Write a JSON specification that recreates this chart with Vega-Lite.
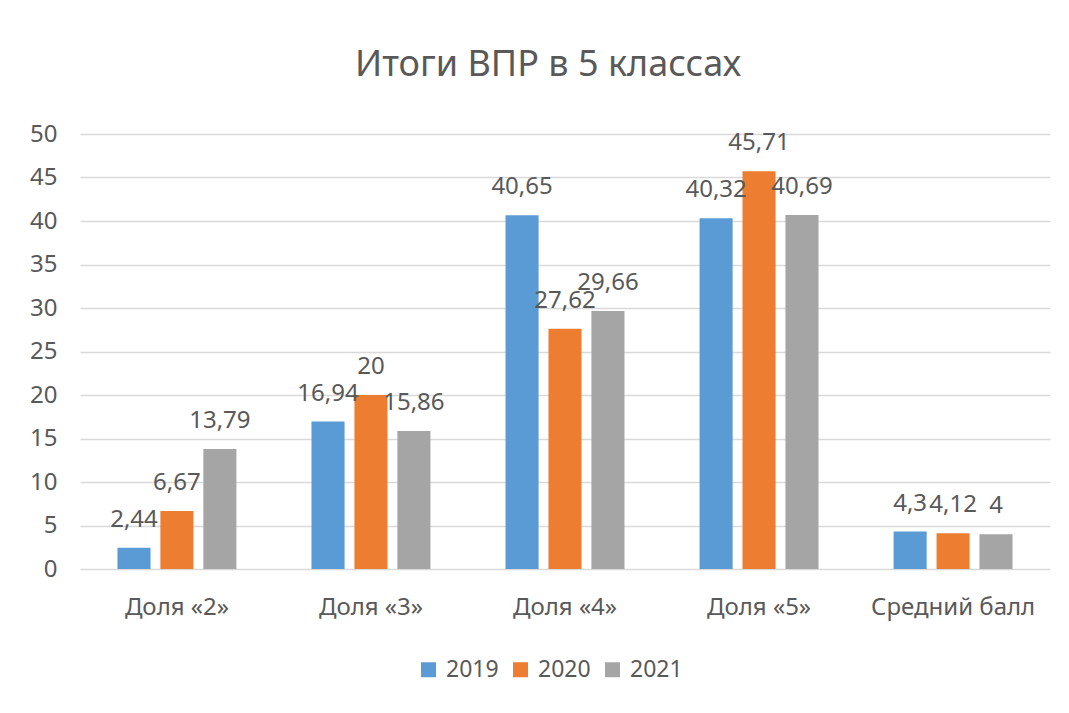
{
  "$schema": "https://vega.github.io/schema/vega-lite/v6.json",
  "autosize": {"type": "none"},
  "padding": {"left": 80, "top": 134, "right": 19, "bottom": 144},
  "width": 970,
  "height": 435,
  "background": "white",
  "config": {
    "locale": {"number": {"decimal": ",", "thousands": "\u00a0", "grouping": [3], "currency": ["", ""]}},
    "font": "Noto Sans",
    "view": {"stroke": null},
    "axis": {"labelColor": "#595959", "labelFont": "Noto Sans", "labelFontSize": 24, "ticks": false, "domain": false, "title": null, "gridColor": "#D9D9D9", "gridWidth": 1.5},
    "legend": {"labelColor": "#595959", "labelFontSize": 23, "labelFont": "Noto Sans"}
  },
  "title": {"text": "Итоги ВПР в 5 классах", "fontSize": 36, "fontWeight": "normal", "color": "#595959", "offset": 38, "dx": -17, "anchor": "middle"},
  "data": {"values": [
    {"cat": "Доля «2»", "year": "2019", "v": 2.44},
    {"cat": "Доля «2»", "year": "2020", "v": 6.67},
    {"cat": "Доля «2»", "year": "2021", "v": 13.79},
    {"cat": "Доля «3»", "year": "2019", "v": 16.94},
    {"cat": "Доля «3»", "year": "2020", "v": 20},
    {"cat": "Доля «3»", "year": "2021", "v": 15.86},
    {"cat": "Доля «4»", "year": "2019", "v": 40.65},
    {"cat": "Доля «4»", "year": "2020", "v": 27.62},
    {"cat": "Доля «4»", "year": "2021", "v": 29.66},
    {"cat": "Доля «5»", "year": "2019", "v": 40.32},
    {"cat": "Доля «5»", "year": "2020", "v": 45.71},
    {"cat": "Доля «5»", "year": "2021", "v": 40.69},
    {"cat": "Средний балл", "year": "2019", "v": 4.3},
    {"cat": "Средний балл", "year": "2020", "v": 4.12},
    {"cat": "Средний балл", "year": "2021", "v": 4}
  ]},
  "encoding": {
    "x": {"field": "cat", "type": "nominal", "sort": null,
      "scale": {"paddingInner": 0.387, "paddingOuter": 0.193},
      "axis": {"labelAngle": 0, "grid": false, "labelPadding": 26}},
    "xOffset": {"field": "year", "type": "nominal", "scale": {"paddingInner": 0.23, "paddingOuter": 0}},
    "y": {"field": "v", "type": "quantitative",
      "scale": {"domain": [0, 50], "nice": false},
      "axis": {"values": [0, 5, 10, 15, 20, 25, 30, 35, 40, 45, 50], "labelPadding": 23, "grid": true}}
  },
  "layer": [
    {
      "mark": {"type": "bar"},
      "encoding": {
        "color": {"field": "year", "type": "nominal",
          "scale": {"domain": ["2019", "2020", "2021"], "range": ["#5B9BD5", "#ED7D31", "#A5A5A5"]},
          "legend": {"title": null, "orient": "none", "legendX": 337, "legendY": 524, "direction": "horizontal", "symbolType": "square", "symbolSize": 225, "symbolStrokeWidth": 0, "labelOffset": 6, "columnPadding": 10}}
      }
    },
    {
      "mark": {"type": "text", "baseline": "alphabetic", "dy": -21, "fontSize": 24, "color": "#595959"},
      "encoding": {
        "text": {"field": "v", "type": "quantitative", "format": "~g"}
      }
    }
  ]
}
